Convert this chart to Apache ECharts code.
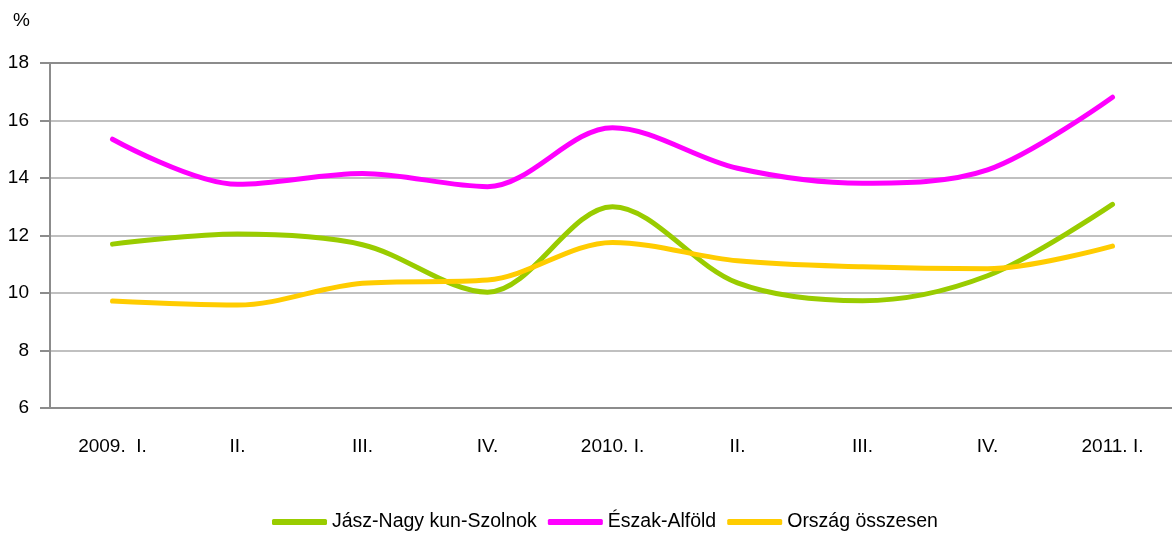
<!DOCTYPE html>
<html>
<head>
<meta charset="utf-8">
<script src="https://cdn.jsdelivr.net/npm/echarts@6/dist/echarts.min.js"></script>
<style>
  html, body { margin: 0; padding: 0; background: #fff; }
  #chart { width: 1172px; height: 534px; }
</style>
</head>
<body>
<div id="chart"></div>
<script>
// negyedévek
const quarters = ['2009.  I.', 'II.', 'III.', 'IV.', '2010. I.', 'II.', 'III.', 'IV.', '2011. I.']

// munkanélküliségi ráta, %
const jaszNagykun = [11.70, 12.05, 11.68, 10.03, 13.00, 10.35, 9.73, 10.60, 13.08]
const eszakAlfold = [15.35, 13.78, 14.16, 13.70, 15.75, 14.34, 13.82, 14.28, 16.81]
const orszag = [9.72, 9.58, 10.34, 10.45, 11.76, 11.12, 10.91, 10.84, 11.63]

const font = "'Liberation Sans', Arial, sans-serif"
const fontSize = 19

const chart = echarts.init(document.getElementById('chart'))

// Excel-szerű simítás
const makeSeries = (name, data, color) => ({
  name: name,
  type: 'line',
  data: data,
  smooth: 0.33,
  smoothConstraint: false,
  symbol: 'none',
  lineStyle: { color: color, width: 5, cap: 'round', join: 'round' },
  itemStyle: { color: color }
})

// a felső rácsvonal sötétebb (a rajzterület kerete)
const splitColors = ['#c0c0c0', '#c0c0c0', '#c0c0c0', '#c0c0c0', '#c0c0c0', '#c0c0c0', '#8c8c8c']

chart.setOption({
  animation: false,
  title: {
    text: '%',
    left: 13,
    top: 11,
    padding: 0,
    textStyle: { fontFamily: font, fontSize: fontSize, fontWeight: 'normal', color: '#000' }
  },
  grid: {
    left: 50,
    top: 63,
    width: 1125,
    height: 345,
    containLabel: false,
    outerBoundsMode: 'none'
  },
  legend: {
    left: 272,
    top: 512,
    padding: 0,
    itemWidth: 55,
    itemHeight: 6,
    itemGap: 11,
    icon: 'roundRect',
    textStyle: { fontFamily: font, fontSize: 19.5, color: '#000' },
    data: ['Jász-Nagy kun-Szolnok', 'Észak-Alföld', 'Ország összesen']
  },
  xAxis: {
    type: 'category',
    data: quarters,
    boundaryGap: true,
    axisLine: { lineStyle: { color: '#8c8c8c', width: 2 } },
    axisTick: { length: 8, lineStyle: { color: '#8c8c8c', width: 2 } },
    axisLabel: { margin: 29, fontFamily: font, fontSize: fontSize, color: '#000' },
    splitLine: { show: false }
  },
  yAxis: {
    type: 'value',
    min: 6,
    max: 18,
    interval: 2,
    axisLine: { show: true, lineStyle: { color: '#8c8c8c', width: 2 } },
    axisTick: { show: true, length: 10, lineStyle: { color: '#8c8c8c', width: 2 } },
    axisLabel: { margin: 21, fontFamily: font, fontSize: fontSize, color: '#000' },
    splitLine: { lineStyle: { color: splitColors, width: 2 } }
  },
  series: [
    makeSeries('Jász-Nagy kun-Szolnok', jaszNagykun, '#99cc00'),
    makeSeries('Észak-Alföld', eszakAlfold, '#ff00ff'),
    makeSeries('Ország összesen', orszag, '#ffcc00')
  ]
})
</script>
</body>
</html>
